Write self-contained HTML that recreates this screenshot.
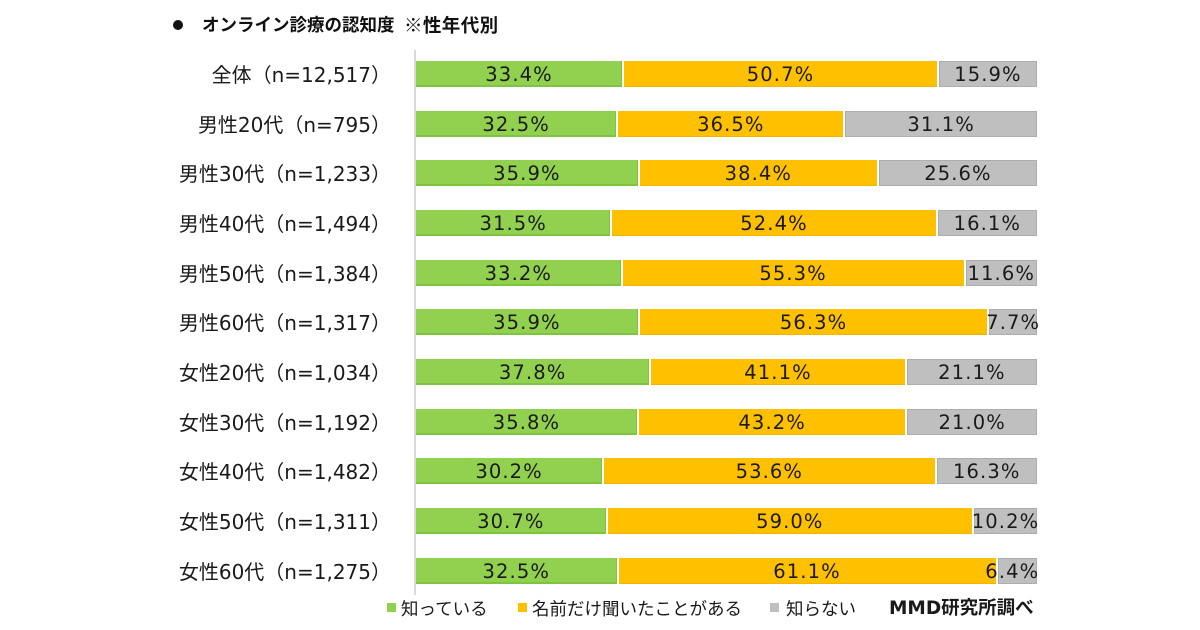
<!DOCTYPE html>
<html>
<head>
<meta charset="utf-8">
<style>
  html,body{margin:0;padding:0;background:#fff;}
  body{width:1200px;height:630px;position:relative;overflow:hidden;
       font-family:"DejaVu Sans","Noto Sans CJK JP",sans-serif;color:#1a1a1a;}
  .title{position:absolute;top:12px;font-family:"Noto Sans CJK JP",sans-serif;font-weight:bold;font-size:17.5px;line-height:26px;color:#111;white-space:nowrap;}
  .bullet{position:absolute;left:173px;top:20px;width:10px;height:10px;border-radius:50%;background:#111;}
  .axis{position:absolute;left:414px;top:50px;width:2px;height:545px;background:#d9d9d9;}
  .lbl{position:absolute;left:71px;width:320px;text-align:right;font-size:20px;line-height:28px;height:28px;white-space:nowrap;color:#1a1a1a;}
  .bar{position:absolute;left:416px;width:621px;height:26px;display:flex;}
  .seg{position:relative;flex-basis:0;flex-shrink:1;height:26px;overflow:visible;box-sizing:border-box;}
  .seg + .seg{margin-left:2px;}
  .g{background:#92d050;box-shadow:inset 0 -2px 0 #7ec441, inset -1px 0 0 #7ec441;}
  .o{background:#ffc000;box-shadow:inset 0 -1px 0 #f2b600;}
  .y{background:#bfbfbf;box-shadow:inset 0 0 0 1px #adadad;}
  .seg span{position:absolute;left:50%;top:0;transform:translateX(-50%);font-size:19.5px;line-height:27px;letter-spacing:1.1px;white-space:nowrap;color:#1a1a1a;z-index:2;}
  .leg{position:absolute;top:596px;font-size:17.5px;line-height:26px;white-space:nowrap;font-family:"Noto Sans CJK JP",sans-serif;color:#1a1a1a;}
  .sq{position:absolute;top:603px;width:9px;height:9px;}
</style>
</head>
<body>
<div class="bullet"></div>
<div class="title" style="left:202px">オンライン診療の認知度</div>
<div class="title" style="left:404px;font-size:18.5px;letter-spacing:0.4px">※性年代別</div>
<div class="axis"></div>

<div class="lbl" style="top:61px">全体（n=12,517）</div>
<div class="bar" style="top:61px">
  <div class="seg g" style="flex-grow:33.4"><span>33.4%</span></div>
  <div class="seg o" style="flex-grow:50.7"><span>50.7%</span></div>
  <div class="seg y" style="flex-grow:15.9"><span>15.9%</span></div>
</div>

<div class="lbl" style="top:110.65px">男性20代（n=795）</div>
<div class="bar" style="top:110.65px">
  <div class="seg g" style="flex-grow:32.5"><span>32.5%</span></div>
  <div class="seg o" style="flex-grow:36.5"><span>36.5%</span></div>
  <div class="seg y" style="flex-grow:31.1"><span>31.1%</span></div>
</div>

<div class="lbl" style="top:160.3px">男性30代（n=1,233）</div>
<div class="bar" style="top:160.3px">
  <div class="seg g" style="flex-grow:35.9"><span>35.9%</span></div>
  <div class="seg o" style="flex-grow:38.4"><span>38.4%</span></div>
  <div class="seg y" style="flex-grow:25.6"><span>25.6%</span></div>
</div>

<div class="lbl" style="top:209.95px">男性40代（n=1,494）</div>
<div class="bar" style="top:209.95px">
  <div class="seg g" style="flex-grow:31.5"><span>31.5%</span></div>
  <div class="seg o" style="flex-grow:52.4"><span>52.4%</span></div>
  <div class="seg y" style="flex-grow:16.1"><span>16.1%</span></div>
</div>

<div class="lbl" style="top:259.6px">男性50代（n=1,384）</div>
<div class="bar" style="top:259.6px">
  <div class="seg g" style="flex-grow:33.2"><span>33.2%</span></div>
  <div class="seg o" style="flex-grow:55.3"><span>55.3%</span></div>
  <div class="seg y" style="flex-grow:11.6"><span>11.6%</span></div>
</div>

<div class="lbl" style="top:309.25px">男性60代（n=1,317）</div>
<div class="bar" style="top:309.25px">
  <div class="seg g" style="flex-grow:35.9"><span>35.9%</span></div>
  <div class="seg o" style="flex-grow:56.3"><span>56.3%</span></div>
  <div class="seg y" style="flex-grow:7.7"><span>7.7%</span></div>
</div>

<div class="lbl" style="top:358.9px">女性20代（n=1,034）</div>
<div class="bar" style="top:358.9px">
  <div class="seg g" style="flex-grow:37.8"><span>37.8%</span></div>
  <div class="seg o" style="flex-grow:41.1"><span>41.1%</span></div>
  <div class="seg y" style="flex-grow:21.1"><span>21.1%</span></div>
</div>

<div class="lbl" style="top:408.55px">女性30代（n=1,192）</div>
<div class="bar" style="top:408.55px">
  <div class="seg g" style="flex-grow:35.8"><span>35.8%</span></div>
  <div class="seg o" style="flex-grow:43.2"><span>43.2%</span></div>
  <div class="seg y" style="flex-grow:21.0"><span>21.0%</span></div>
</div>

<div class="lbl" style="top:458.2px">女性40代（n=1,482）</div>
<div class="bar" style="top:458.2px">
  <div class="seg g" style="flex-grow:30.2"><span>30.2%</span></div>
  <div class="seg o" style="flex-grow:53.6"><span>53.6%</span></div>
  <div class="seg y" style="flex-grow:16.3"><span>16.3%</span></div>
</div>

<div class="lbl" style="top:507.85px">女性50代（n=1,311）</div>
<div class="bar" style="top:507.85px">
  <div class="seg g" style="flex-grow:30.7"><span>30.7%</span></div>
  <div class="seg o" style="flex-grow:59.0"><span>59.0%</span></div>
  <div class="seg y" style="flex-grow:10.2"><span>10.2%</span></div>
</div>

<div class="lbl" style="top:557.5px">女性60代（n=1,275）</div>
<div class="bar" style="top:557.5px">
  <div class="seg g" style="flex-grow:32.5"><span>32.5%</span></div>
  <div class="seg o" style="flex-grow:61.1"><span>61.1%</span></div>
  <div class="seg y" style="flex-grow:6.4"><span style="transform:translateX(calc(-50% - 5px))">6.4%</span></div>
</div>

<div class="sq" style="left:387px;background:#92d050"></div>
<div class="leg" style="left:401px">知っている</div>
<div class="sq" style="left:518px;background:#ffc000"></div>
<div class="leg" style="left:532px">名前だけ聞いたことがある</div>
<div class="sq" style="left:770px;background:#bfbfbf"></div>
<div class="leg" style="left:786px">知らない</div>
<div class="leg" style="left:889px;font-weight:bold;font-size:18.5px;font-family:'DejaVu Sans','Noto Sans CJK JP',sans-serif;">MMD研究所調べ</div>
</body>
</html>
